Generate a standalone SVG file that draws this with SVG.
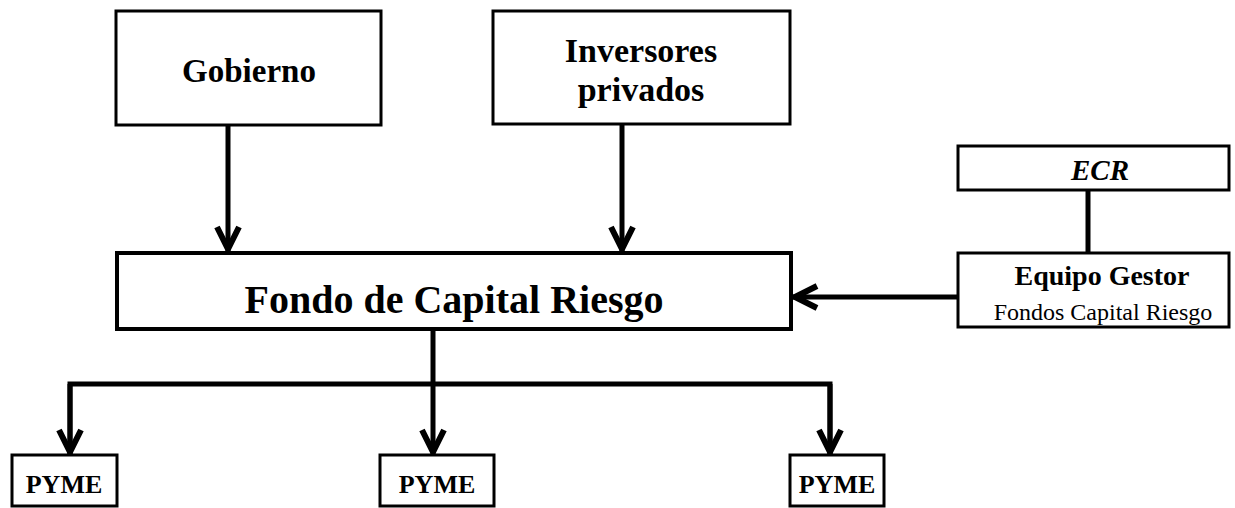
<svg xmlns="http://www.w3.org/2000/svg" width="1235" height="508" viewBox="0 0 1235 508">
<style>
.box{fill:#fff;stroke:#000;stroke-width:3}
.big{stroke-width:4}
.t{font-family:"Liberation Serif","Times New Roman",serif;font-weight:bold;fill:#000;text-anchor:middle}
.r{font-weight:normal}
.line{fill:none;stroke:#000;stroke-width:5}
.head{fill:none;stroke:#000;stroke-width:6;stroke-linejoin:miter;stroke-miterlimit:10}
</style>
<defs>
<marker id="ah" markerUnits="userSpaceOnUse" markerWidth="40" markerHeight="40" viewBox="-30 -20 40 40" refX="0" refY="0" orient="auto" overflow="visible">
<path class="head" d="M -24 -11 L -2 0 L -24 11"/>
</marker>
</defs>
<rect width="1235" height="508" fill="#fff"/>
<g id="connectors">
<line class="line" x1="228" y1="125" x2="228" y2="251" marker-end="url(#ah)"/>
<line class="line" x1="622" y1="125" x2="622" y2="251" marker-end="url(#ah)"/>
<line class="line" x1="1088" y1="190" x2="1088" y2="253"/>
<line class="line" x1="958" y1="297" x2="793" y2="297" marker-end="url(#ah)"/>
<line class="line" x1="433" y1="330" x2="433" y2="454" marker-end="url(#ah)"/>
<polyline class="line" points="70,454 70,384 830,384 830,454"/>
<line class="line" x1="70" y1="384" x2="70" y2="454" marker-end="url(#ah)"/>
<line class="line" x1="830" y1="384" x2="830" y2="454" marker-end="url(#ah)"/>
</g>
<g id="gobierno">
<rect class="box" x="116" y="11" width="265" height="114"/>
<text class="t" x="249" y="82" font-size="33">Gobierno</text>
</g>
<g id="inversores">
<rect class="box" x="493" y="11" width="297" height="113"/>
<text class="t" x="641" y="62" font-size="34">Inversores</text>
<text class="t" x="641" y="101" font-size="34">privados</text>
</g>
<g id="fondo">
<rect class="box big" x="117" y="253" width="674" height="76"/>
<text class="t" x="454" y="313" font-size="40">Fondo de Capital Riesgo</text>
</g>
<g id="ecr">
<rect class="box" x="958" y="146" width="271" height="44"/>
<text class="t" x="1100" y="180" font-size="29" font-style="italic">ECR</text>
</g>
<g id="equipo">
<rect class="box" x="958" y="253" width="271" height="74"/>
<text class="t" x="1102" y="285" font-size="28">Equipo Gestor</text>
<text class="t r" x="1103" y="320" font-size="24">Fondos Capital Riesgo</text>
</g>
<g id="pyme1">
<rect class="box" x="12" y="455" width="105" height="51"/>
<text class="t" x="64" y="493" font-size="26">PYME</text>
</g>
<g id="pyme2">
<rect class="box" x="380" y="455" width="114" height="51"/>
<text class="t" x="437" y="493" font-size="26">PYME</text>
</g>
<g id="pyme3">
<rect class="box" x="790" y="455" width="94" height="51"/>
<text class="t" x="837" y="493" font-size="26">PYME</text>
</g>
</svg>
